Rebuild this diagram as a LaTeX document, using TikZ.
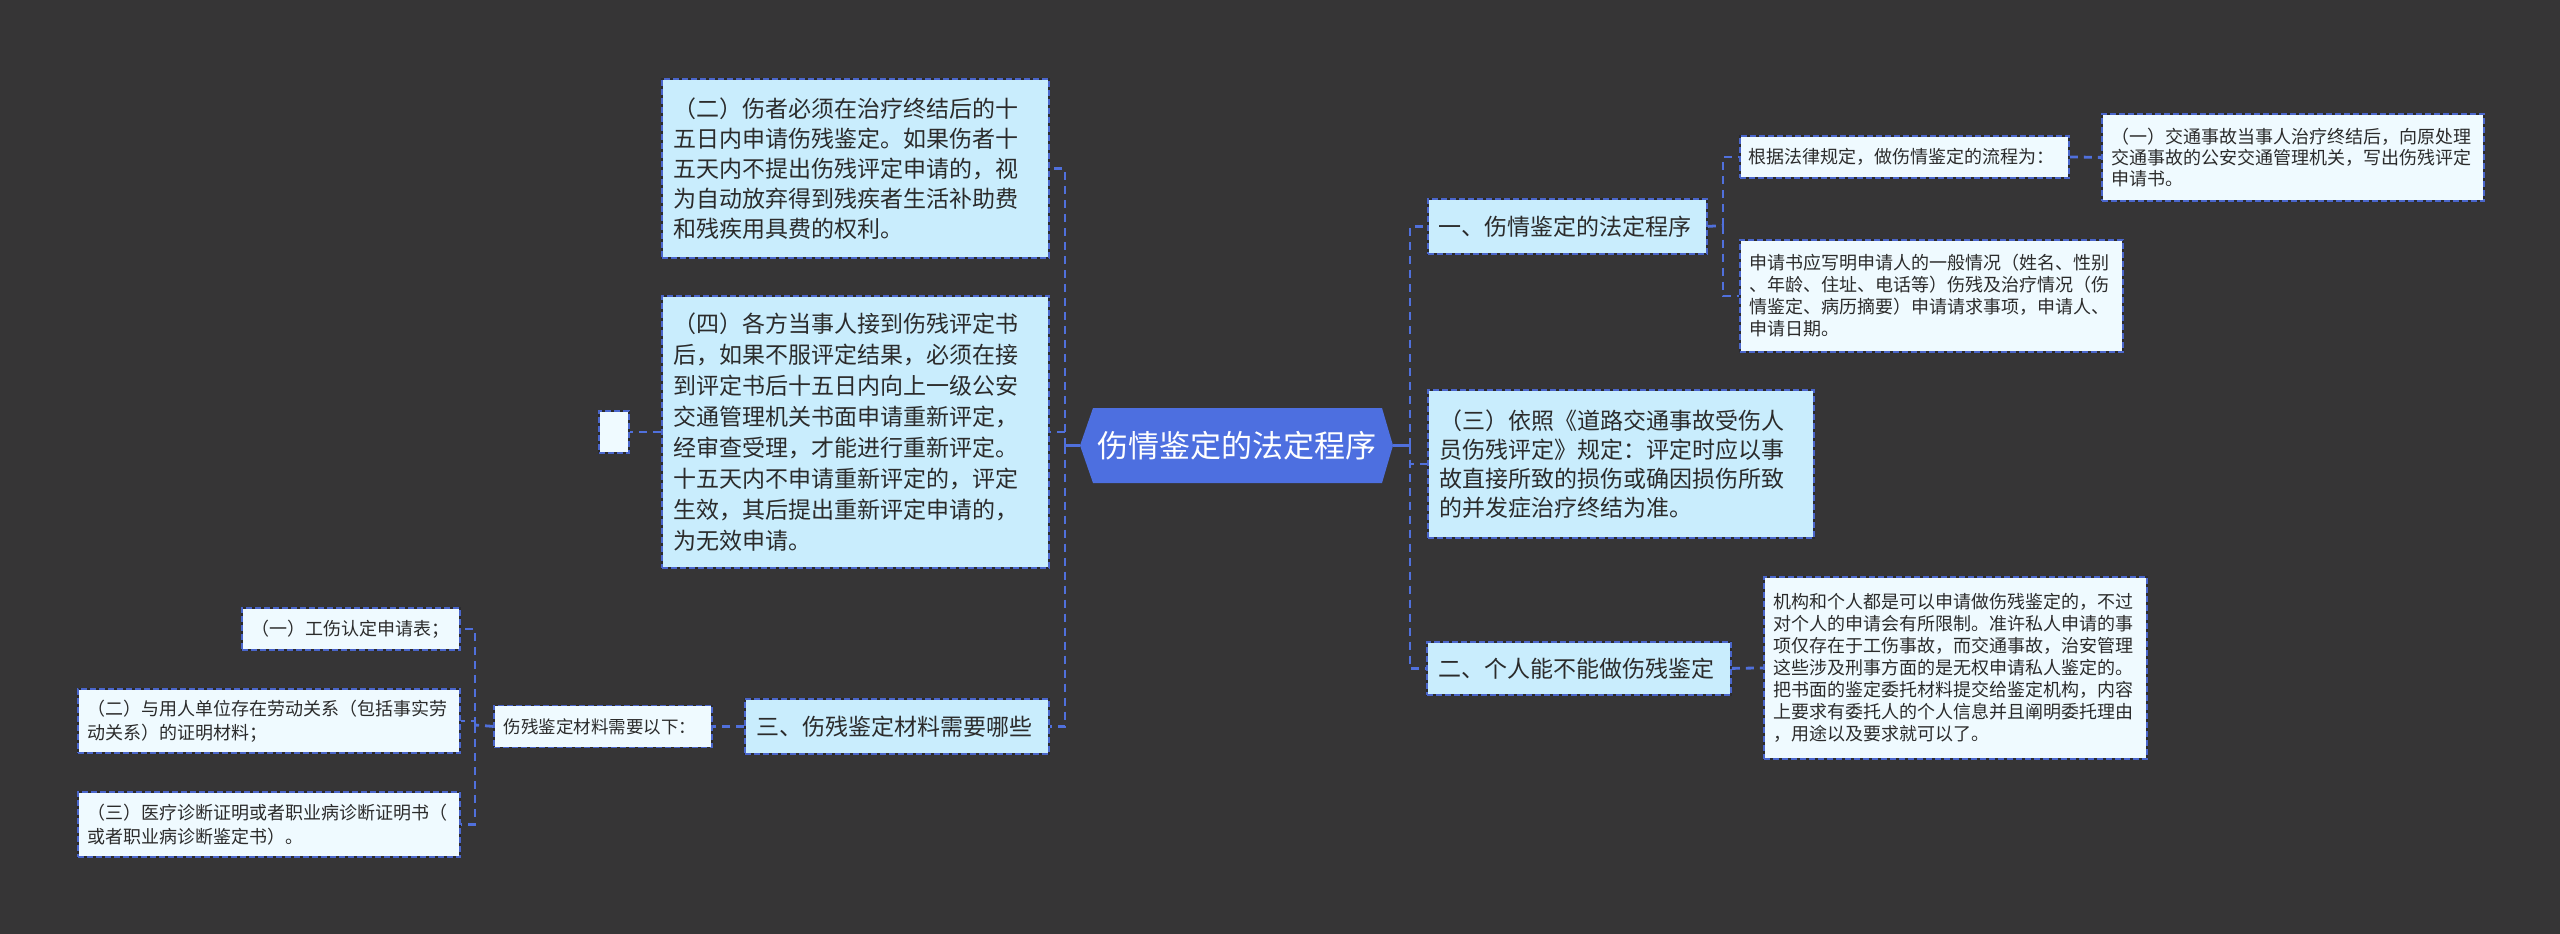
\documentclass[tikz,border=0pt]{standalone}
\usepackage{fontspec}
\setmainfont{Noto Sans CJK SC}
\definecolor{bg}{HTML}{363536}
\definecolor{lvlfill}{HTML}{C9EDFD}
\definecolor{leaffill}{HTML}{EFFAFF}
\definecolor{bordercol}{HTML}{4A66CC}
\definecolor{boxdark}{HTML}{2A2A2E}
\definecolor{linkcol}{HTML}{5070DC}
\definecolor{centerfill}{HTML}{4D6FE0}
\definecolor{txt}{HTML}{2B2B2B}
\begin{document}
\begin{tikzpicture}[x=1pt,y=-1pt,
  box/.style={rectangle, draw=boxdark, line width=1.8pt,
    postaction={draw=bordercol, line width=1.8pt, dash pattern=on 6pt off 3pt},
    inner ysep=0pt, align=left, text=txt, anchor=north west},
  lvl/.style={box, fill=lvlfill},
  leaf/.style={box, fill=leaffill},
  bigfont/.style={font=\fontsize{23pt}{30pt}\selectfont},
  smallfont/.style={font=\fontsize{18pt}{22pt}\selectfont},
  leaffont/.style={font=\fontsize{18pt}{24pt}\selectfont},
  link/.style={draw=linkcol, line width=2.8pt, dash pattern=on 8pt off 6pt},
  stem/.style={draw=linkcol, line width=3pt}]
\useasboundingbox (0,0) rectangle (2560,934);
\fill[bg] (0,0) rectangle (2560,934);

% central hexagon
\fill[centerfill] (1080,445.5) -- (1093,408) -- (1382,408) -- (1393,445.5) -- (1382,483) -- (1093,483) -- cycle;
\node[minimum width=313pt, minimum height=75pt, inner sep=0pt, text=white,
  font=\fontsize{31pt}{36pt}\selectfont] (c) at (1236.5,445.5) {伤情鉴定的法定程序};

% left side
\node[lvl, bigfont, text width=363pt, inner xsep=12pt, minimum height=179pt] (L2) at (661,78)
  {（二）伤者必须在治疗终结后的十\\五日内申请伤残鉴定。如果伤者十\\五天内不提出伤残评定申请的，视\\为自动放弃得到残疾者生活补助费\\和残疾用具费的权利。};
\node[lvl, font=\fontsize{23pt}{31pt}\selectfont, text width=363pt, inner xsep=12pt, minimum height=272pt] (L4) at (661,295)
  {（四）各方当事人接到伤残评定书\\后，如果不服评定结果，必须在接\\到评定书后十五日内向上一级公安\\交通管理机关书面申请重新评定，\\经审查受理，才能进行重新评定。\\十五天内不申请重新评定的，评定\\生效，其后提出重新评定申请的，\\为无效申请。};
\node[leaf, inner sep=0pt, minimum width=30pt, minimum height=42pt] (Le) at (598,410) {};
\node[lvl, bigfont, text width=280pt, inner xsep=12pt, minimum height=55pt] (L3) at (744,698)
  {三、伤残鉴定材料需要哪些};
\node[leaf, font=\fontsize{17.5pt}{22pt}\selectfont, text width=198pt, inner xsep=10pt, minimum height=42pt] (lab) at (493,704.5)
  {伤残鉴定材料需要以下：};
\node[leaf, leaffont, text width=198pt, inner xsep=10pt, minimum height=42pt] (la) at (241,607)
  {（一）工伤认定申请表；};
\node[leaf, leaffont, text width=362pt, inner xsep=10pt, minimum height=64pt] (lb) at (77,688)
  {（二）与用人单位存在劳动关系（包括事实劳\\动关系）的证明材料；};
\node[leaf, leaffont, text width=362pt, inner xsep=10pt, minimum height=65pt] (lc) at (77,791)
  {（三）医疗诊断证明或者职业病诊断证明书（\\或者职业病诊断鉴定书）。};

% right side
\node[lvl, bigfont, text width=257pt, inner xsep=11pt, minimum height=55pt] (R1) at (1427,198)
  {一、伤情鉴定的法定程序};
\node[leaf, smallfont, text width=311pt, inner xsep=9pt, minimum height=42pt] (R1a) at (1739,135)
  {根据法律规定，做伤情鉴定的流程为：};
\node[leaf, smallfont, text width=363pt, inner xsep=10pt, minimum height=112pt] (R1b) at (1739,239)
  {申请书应写明申请人的一般情况（姓名、性别\\、年龄、住址、电话等）伤残及治疗情况（伤\\情鉴定、病历摘要）申请请求事项，申请人、\\申请日期。};
\node[leaf, font=\fontsize{18pt}{21pt}\selectfont, text width=362pt, inner xsep=10pt, minimum height=87pt] (R1aa) at (2101,113)
  {（一）交通事故当事人治疗终结后，向原处理\\交通事故的公安交通管理机关，写出伤残评定\\申请书。};
\node[lvl, font=\fontsize{23pt}{29pt}\selectfont, text width=362pt, inner xsep=12pt, minimum height=148pt] (R3) at (1427,389)
  {（三）依照《道路交通事故受伤人\\员伤残评定》规定：评定时应以事\\故直接所致的损伤或确因损伤所致\\的并发症治疗终结为准。};
\node[lvl, bigfont, text width=280pt, inner xsep=12pt, minimum height=53pt] (R2) at (1426,641)
  {二、个人能不能做伤残鉴定};
\node[leaf, smallfont, text width=363pt, inner xsep=10pt, minimum height=182pt] (R2a) at (1763,576)
  {机构和个人都是可以申请做伤残鉴定的，不过\\对个人的申请会有所限制。准许私人申请的事\\项仅存在于工伤事故，而交通事故，治安管理\\这些涉及刑事方面的是无权申请私人鉴定的。\\把书面的鉴定委托材料提交给鉴定机构，内容\\上要求有委托人的个人信息并且阐明委托理由\\，用途以及要求就可以了。};

% connectors
\coordinate (ls) at (1065,445.5);
\coordinate (rs) at (1410,445.5);
\coordinate (ms) at (475,725);
\coordinate (r1s) at (1723,225.5);
\draw[stem] (c.west) -- (ls);
\draw[stem] (c.east) -- (rs);
\draw[link] (ls) |- (L2.east);
\draw[link] (ls) |- (L4.east);
\draw[link] (ls) |- (L3.east);
\draw[link] (L4.west) -- (Le.east);
\draw[link] (L3.west) -- (lab.east);
\draw[link] (lab.west) -- (ms);
\draw[link] (ms) |- (la.east);
\draw[link] (ms) |- (lb.east);
\draw[link] (ms) |- (lc.east);
\draw[link] (rs) |- (R1.west);
\draw[link] (rs) |- (R3.west);
\draw[link] (rs) |- (R2.west);
\draw[link] (R1.east) -- (r1s);
\draw[link] (r1s) |- (R1a.west);
\draw[link] (r1s) |- (R1b.west);
\draw[link] (R1a.east) -- (R1aa.west);
\draw[link] (R2.east) -- (R2a.west);
\end{tikzpicture}
\end{document}
